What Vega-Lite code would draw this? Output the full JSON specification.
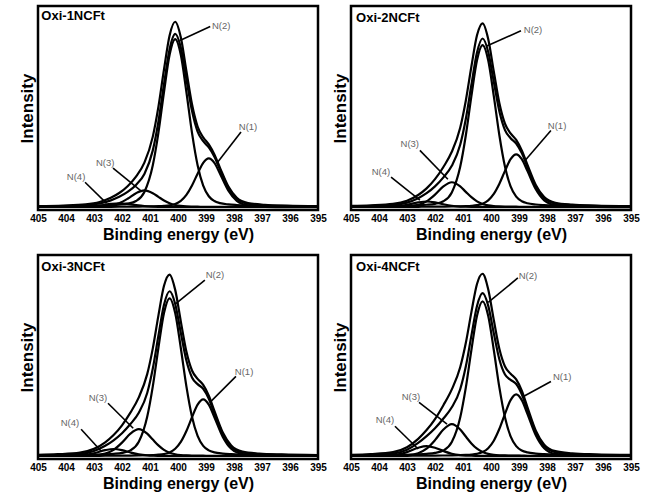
{
  "$schema": "https://vega.github.io/schema/vega-lite/v6.json",
  "background": "white",
  "padding": {"left": 16, "top": 4, "right": 5, "bottom": 2},
  "data": {"values": [
    {"s":"Oxi-1NCFt","x":395,"raw":0.0048,"env":0.0035,"n1":0.0011,"n2":0.0022,"n3":0.0002,"n4":0},
    {"s":"Oxi-1NCFt","x":396.1,"raw":0.0074,"env":0.0055,"n1":0.0019,"n2":0.0034,"n3":0.0002,"n4":0},
    {"s":"Oxi-1NCFt","x":396.9,"raw":0.012,"env":0.0093,"n1":0.0037,"n2":0.0052,"n3":0.0003,"n4":0.0001},
    {"s":"Oxi-1NCFt","x":397.5,"raw":0.0216,"env":0.0178,"n1":0.0094,"n2":0.0078,"n3":0.0005,"n4":0.0001},
    {"s":"Oxi-1NCFt","x":397.9,"raw":0.05,"env":0.0449,"n1":0.0335,"n2":0.0107,"n3":0.0006,"n4":0.0001},
    {"s":"Oxi-1NCFt","x":398.2,"raw":0.1102,"env":0.1035,"n1":0.0885,"n2":0.0142,"n3":0.0007,"n4":0.0001},
    {"s":"Oxi-1NCFt","x":398.5,"raw":0.2116,"env":0.2023,"n1":0.1802,"n2":0.0212,"n3":0.0008,"n4":0.0001},
    {"s":"Oxi-1NCFt","x":398.7,"raw":0.2839,"env":0.2719,"n1":0.2384,"n2":0.0324,"n3":0.001,"n4":0.0001},
    {"s":"Oxi-1NCFt","x":398.9,"raw":0.3381,"env":0.3224,"n1":0.263,"n2":0.0582,"n3":0.0011,"n4":0.0001},
    {"s":"Oxi-1NCFt","x":399.1,"raw":0.3762,"env":0.3555,"n1":0.2384,"n2":0.1155,"n3":0.0014,"n4":0.0002},
    {"s":"Oxi-1NCFt","x":399.3,"raw":0.4351,"env":0.4078,"n1":0.1802,"n2":0.2257,"n3":0.0017,"n4":0.0002},
    {"s":"Oxi-1NCFt","x":399.5,"raw":0.5549,"env":0.5195,"n1":0.1162,"n2":0.4008,"n3":0.0023,"n4":0.0002},
    {"s":"Oxi-1NCFt","x":399.7,"raw":0.7354,"env":0.6905,"n1":0.0654,"n2":0.6215,"n3":0.0034,"n4":0.0002},
    {"s":"Oxi-1NCFt","x":399.9,"raw":0.9173,"env":0.862,"n1":0.0335,"n2":0.8223,"n3":0.0059,"n4":0.0003},
    {"s":"Oxi-1NCFt","x":400.1,"raw":1.0009,"env":0.9353,"n1":0.0169,"n2":0.907,"n3":0.0111,"n4":0.0003},
    {"s":"Oxi-1NCFt","x":400.3,"raw":0.9271,"env":0.8528,"n1":0.0094,"n2":0.8223,"n3":0.0207,"n4":0.0004},
    {"s":"Oxi-1NCFt","x":400.5,"raw":0.7432,"env":0.6639,"n1":0.0062,"n2":0.6215,"n3":0.0356,"n4":0.0006},
    {"s":"Oxi-1NCFt","x":400.7,"raw":0.5408,"env":0.4615,"n1":0.0046,"n2":0.4008,"n3":0.0551,"n4":0.001},
    {"s":"Oxi-1NCFt","x":400.9,"raw":0.3804,"env":0.3061,"n1":0.0037,"n2":0.2257,"n3":0.0749,"n4":0.0018},
    {"s":"Oxi-1NCFt","x":401.2,"raw":0.2396,"env":0.179,"n1":0.0028,"n2":0.0816,"n3":0.09,"n4":0.0046},
    {"s":"Oxi-1NCFt","x":401.5,"raw":0.1645,"env":0.1196,"n1":0.0023,"n2":0.0324,"n3":0.0749,"n4":0.01},
    {"s":"Oxi-1NCFt","x":401.8,"raw":0.1127,"env":0.0816,"n1":0.0018,"n2":0.0181,"n3":0.045,"n4":0.0167},
    {"s":"Oxi-1NCFt","x":402.1,"raw":0.0757,"env":0.055,"n1":0.0015,"n2":0.0128,"n3":0.0207,"n4":0.02},
    {"s":"Oxi-1NCFt","x":402.4,"raw":0.0496,"env":0.0359,"n1":0.0013,"n2":0.0098,"n3":0.0081,"n4":0.0167},
    {"s":"Oxi-1NCFt","x":402.8,"raw":0.0271,"env":0.0189,"n1":0.001,"n2":0.0073,"n3":0.0027,"n4":0.0079},
    {"s":"Oxi-1NCFt","x":403.3,"raw":0.0143,"env":0.0092,"n1":0.0008,"n2":0.0052,"n3":0.0014,"n4":0.0018},
    {"s":"Oxi-1NCFt","x":404.1,"raw":0.008,"env":0.005,"n1":0.0006,"n2":0.0034,"n3":0.0007,"n4":0.0003},
    {"s":"Oxi-1NCFt","x":405,"raw":0.0051,"env":0.0032,"n1":0.0004,"n2":0.0022,"n3":0.0004,"n4":0.0002},

    {"s":"Oxi-2NCFt","x":395,"raw":0.0052,"env":0.0036,"n1":0.0012,"n2":0.0021,"n3":0.0003,"n4":0},
    {"s":"Oxi-2NCFt","x":396.3,"raw":0.0082,"env":0.0058,"n1":0.0021,"n2":0.0032,"n3":0.0004,"n4":0.0001},
    {"s":"Oxi-2NCFt","x":397.1,"raw":0.013,"env":0.0096,"n1":0.004,"n2":0.005,"n3":0.0005,"n4":0.0001},
    {"s":"Oxi-2NCFt","x":397.7,"raw":0.0233,"env":0.0185,"n1":0.0102,"n2":0.0075,"n3":0.0007,"n4":0.0001},
    {"s":"Oxi-2NCFt","x":398.1,"raw":0.054,"env":0.0476,"n1":0.0363,"n2":0.0103,"n3":0.0009,"n4":0.0001},
    {"s":"Oxi-2NCFt","x":398.4,"raw":0.119,"env":0.1107,"n1":0.0959,"n2":0.0137,"n3":0.001,"n4":0.0001},
    {"s":"Oxi-2NCFt","x":398.7,"raw":0.2289,"env":0.2173,"n1":0.1953,"n2":0.0205,"n3":0.0013,"n4":0.0002},
    {"s":"Oxi-2NCFt","x":398.9,"raw":0.3062,"env":0.2913,"n1":0.2584,"n2":0.0312,"n3":0.0015,"n4":0.0002},
    {"s":"Oxi-2NCFt","x":399.1,"raw":0.3627,"env":0.3431,"n1":0.285,"n2":0.0562,"n3":0.0017,"n4":0.0002},
    {"s":"Oxi-2NCFt","x":399.3,"raw":0.3979,"env":0.372,"n1":0.2584,"n2":0.1114,"n3":0.002,"n4":0.0002},
    {"s":"Oxi-2NCFt","x":399.5,"raw":0.4499,"env":0.4158,"n1":0.1953,"n2":0.2177,"n3":0.0025,"n4":0.0003},
    {"s":"Oxi-2NCFt","x":399.7,"raw":0.5605,"env":0.5163,"n1":0.1259,"n2":0.3867,"n3":0.0034,"n4":0.0003},
    {"s":"Oxi-2NCFt","x":399.9,"raw":0.7321,"env":0.676,"n1":0.0709,"n2":0.5996,"n3":0.0051,"n4":0.0004},
    {"s":"Oxi-2NCFt","x":400.1,"raw":0.908,"env":0.8388,"n1":0.0363,"n2":0.7933,"n3":0.0088,"n4":0.0004},
    {"s":"Oxi-2NCFt","x":400.3,"raw":0.9924,"env":0.9104,"n1":0.0183,"n2":0.875,"n3":0.0166,"n4":0.0005},
    {"s":"Oxi-2NCFt","x":400.5,"raw":0.9277,"env":0.8349,"n1":0.0102,"n2":0.7933,"n3":0.0308,"n4":0.0006},
    {"s":"Oxi-2NCFt","x":400.7,"raw":0.7595,"env":0.6603,"n1":0.0067,"n2":0.5996,"n3":0.0531,"n4":0.0009},
    {"s":"Oxi-2NCFt","x":400.9,"raw":0.5745,"env":0.4753,"n1":0.005,"n2":0.3867,"n3":0.0821,"n4":0.0015},
    {"s":"Oxi-2NCFt","x":401.1,"raw":0.4288,"env":0.336,"n1":0.004,"n2":0.2177,"n3":0.1116,"n4":0.0027},
    {"s":"Oxi-2NCFt","x":401.4,"raw":0.2985,"env":0.2228,"n1":0.0031,"n2":0.0788,"n3":0.134,"n4":0.0069},
    {"s":"Oxi-2NCFt","x":401.7,"raw":0.2164,"env":0.1603,"n1":0.0025,"n2":0.0312,"n3":0.1116,"n4":0.015},
    {"s":"Oxi-2NCFt","x":402.0,"raw":0.1504,"env":0.1115,"n1":0.002,"n2":0.0175,"n3":0.067,"n4":0.025},
    {"s":"Oxi-2NCFt","x":402.3,"raw":0.1006,"env":0.0747,"n1":0.0016,"n2":0.0123,"n3":0.0308,"n4":0.03},
    {"s":"Oxi-2NCFt","x":402.6,"raw":0.0651,"env":0.048,"n1":0.0014,"n2":0.0095,"n3":0.0121,"n4":0.025},
    {"s":"Oxi-2NCFt","x":403.0,"raw":0.0344,"env":0.0241,"n1":0.0011,"n2":0.007,"n3":0.0041,"n4":0.0119},
    {"s":"Oxi-2NCFt","x":403.5,"raw":0.017,"env":0.0106,"n1":0.0009,"n2":0.005,"n3":0.002,"n4":0.0027},
    {"s":"Oxi-2NCFt","x":404.3,"raw":0.0092,"env":0.0054,"n1":0.0006,"n2":0.0032,"n3":0.0011,"n4":0.0005},
    {"s":"Oxi-2NCFt","x":405,"raw":0.0058,"env":0.0034,"n1":0.0005,"n2":0.0021,"n3":0.0006,"n4":0.0002},

    {"s":"Oxi-3NCFt","x":395,"raw":0.0055,"env":0.0037,"n1":0.0013,"n2":0.002,"n3":0.0003,"n4":0.0001},
    {"s":"Oxi-3NCFt","x":396.3,"raw":0.0086,"env":0.006,"n1":0.0023,"n2":0.0032,"n3":0.0004,"n4":0.0001},
    {"s":"Oxi-3NCFt","x":397.1,"raw":0.0136,"env":0.0099,"n1":0.0043,"n2":0.0049,"n3":0.0006,"n4":0.0001},
    {"s":"Oxi-3NCFt","x":397.7,"raw":0.0242,"env":0.019,"n1":0.0109,"n2":0.0073,"n3":0.0007,"n4":0.0001},
    {"s":"Oxi-3NCFt","x":398.1,"raw":0.0572,"env":0.0502,"n1":0.039,"n2":0.0101,"n3":0.0009,"n4":0.0002},
    {"s":"Oxi-3NCFt","x":398.4,"raw":0.1269,"env":0.1177,"n1":0.103,"n2":0.0134,"n3":0.0011,"n4":0.0002},
    {"s":"Oxi-3NCFt","x":398.7,"raw":0.2439,"env":0.2312,"n1":0.2097,"n2":0.0199,"n3":0.0014,"n4":0.0002},
    {"s":"Oxi-3NCFt","x":398.9,"raw":0.326,"env":0.3096,"n1":0.2774,"n2":0.0304,"n3":0.0016,"n4":0.0002},
    {"s":"Oxi-3NCFt","x":399.1,"raw":0.3844,"env":0.3628,"n1":0.306,"n2":0.0547,"n3":0.0018,"n4":0.0003},
    {"s":"Oxi-3NCFt","x":399.3,"raw":0.4169,"env":0.3884,"n1":0.2774,"n2":0.1085,"n3":0.0022,"n4":0.0003},
    {"s":"Oxi-3NCFt","x":399.5,"raw":0.4622,"env":0.4247,"n1":0.2097,"n2":0.212,"n3":0.0027,"n4":0.0003},
    {"s":"Oxi-3NCFt","x":399.7,"raw":0.5644,"env":0.5157,"n1":0.1352,"n2":0.3765,"n3":0.0036,"n4":0.0004},
    {"s":"Oxi-3NCFt","x":399.9,"raw":0.7276,"env":0.6658,"n1":0.0761,"n2":0.5838,"n3":0.0055,"n4":0.0004},
    {"s":"Oxi-3NCFt","x":400.1,"raw":0.8976,"env":0.8215,"n1":0.039,"n2":0.7724,"n3":0.0096,"n4":0.0005},
    {"s":"Oxi-3NCFt","x":400.3,"raw":0.9803,"env":0.8901,"n1":0.0196,"n2":0.852,"n3":0.0179,"n4":0.0006},
    {"s":"Oxi-3NCFt","x":400.5,"raw":0.9195,"env":0.8174,"n1":0.0109,"n2":0.7724,"n3":0.0333,"n4":0.0008},
    {"s":"Oxi-3NCFt","x":400.7,"raw":0.7587,"env":0.6496,"n1":0.0072,"n2":0.5838,"n3":0.0574,"n4":0.0012},
    {"s":"Oxi-3NCFt","x":400.9,"raw":0.5817,"env":0.4726,"n1":0.0054,"n2":0.3765,"n3":0.0888,"n4":0.0019},
    {"s":"Oxi-3NCFt","x":401.1,"raw":0.4425,"env":0.3404,"n1":0.0043,"n2":0.212,"n3":0.1207,"n4":0.0034},
    {"s":"Oxi-3NCFt","x":401.4,"raw":0.317,"env":0.2337,"n1":0.0033,"n2":0.0767,"n3":0.145,"n4":0.0087},
    {"s":"Oxi-3NCFt","x":401.7,"raw":0.2345,"env":0.1727,"n1":0.0026,"n2":0.0304,"n3":0.1207,"n4":0.019},
    {"s":"Oxi-3NCFt","x":402.0,"raw":0.166,"env":0.1232,"n1":0.0021,"n2":0.017,"n3":0.0725,"n4":0.0316},
    {"s":"Oxi-3NCFt","x":402.3,"raw":0.1135,"env":0.085,"n1":0.0017,"n2":0.012,"n3":0.0333,"n4":0.038},
    {"s":"Oxi-3NCFt","x":402.6,"raw":0.0742,"env":0.0554,"n1":0.0015,"n2":0.0092,"n3":0.0131,"n4":0.0316},
    {"s":"Oxi-3NCFt","x":403.0,"raw":0.0387,"env":0.0274,"n1":0.0012,"n2":0.0068,"n3":0.0044,"n4":0.015},
    {"s":"Oxi-3NCFt","x":403.5,"raw":0.0184,"env":0.0114,"n1":0.0009,"n2":0.0049,"n3":0.0022,"n4":0.0034},
    {"s":"Oxi-3NCFt","x":404.3,"raw":0.0099,"env":0.0057,"n1":0.0007,"n2":0.0032,"n3":0.0012,"n4":0.0006},
    {"s":"Oxi-3NCFt","x":405,"raw":0.0061,"env":0.0035,"n1":0.0005,"n2":0.002,"n3":0.0007,"n4":0.0003},

    {"s":"Oxi-4NCFt","x":395,"raw":0.0058,"env":0.0038,"n1":0.0014,"n2":0.002,"n3":0.0003,"n4":0.0001},
    {"s":"Oxi-4NCFt","x":396.3,"raw":0.0092,"env":0.0062,"n1":0.0025,"n2":0.0031,"n3":0.0005,"n4":0.0001},
    {"s":"Oxi-4NCFt","x":397.1,"raw":0.0147,"env":0.0103,"n1":0.0047,"n2":0.0048,"n3":0.0007,"n4":0.0001},
    {"s":"Oxi-4NCFt","x":397.7,"raw":0.0263,"env":0.0202,"n1":0.0119,"n2":0.0072,"n3":0.0009,"n4":0.0002},
    {"s":"Oxi-4NCFt","x":398.1,"raw":0.0617,"env":0.0536,"n1":0.0424,"n2":0.0099,"n3":0.0011,"n4":0.0002},
    {"s":"Oxi-4NCFt","x":398.4,"raw":0.1373,"env":0.1267,"n1":0.1121,"n2":0.0131,"n3":0.0013,"n4":0.0002},
    {"s":"Oxi-4NCFt","x":398.7,"raw":0.2645,"env":0.2497,"n1":0.2282,"n2":0.0196,"n3":0.0016,"n4":0.0003},
    {"s":"Oxi-4NCFt","x":398.9,"raw":0.353,"env":0.3339,"n1":0.3019,"n2":0.0298,"n3":0.0019,"n4":0.0003},
    {"s":"Oxi-4NCFt","x":399.1,"raw":0.4144,"env":0.3893,"n1":0.333,"n2":0.0537,"n3":0.0022,"n4":0.0004},
    {"s":"Oxi-4NCFt","x":399.3,"raw":0.4445,"env":0.4113,"n1":0.3019,"n2":0.1064,"n3":0.0026,"n4":0.0004},
    {"s":"Oxi-4NCFt","x":399.5,"raw":0.4836,"env":0.44,"n1":0.2282,"n2":0.208,"n3":0.0033,"n4":0.0005},
    {"s":"Oxi-4NCFt","x":399.7,"raw":0.578,"env":0.5214,"n1":0.1472,"n2":0.3694,"n3":0.0043,"n4":0.0005},
    {"s":"Oxi-4NCFt","x":399.9,"raw":0.7348,"env":0.6629,"n1":0.0829,"n2":0.5728,"n3":0.0066,"n4":0.0006},
    {"s":"Oxi-4NCFt","x":400.1,"raw":0.9009,"env":0.8124,"n1":0.0424,"n2":0.7579,"n3":0.0114,"n4":0.0007},
    {"s":"Oxi-4NCFt","x":400.3,"raw":0.9846,"env":0.8796,"n1":0.0214,"n2":0.836,"n3":0.0213,"n4":0.0009},
    {"s":"Oxi-4NCFt","x":400.5,"raw":0.9293,"env":0.8105,"n1":0.0119,"n2":0.7579,"n3":0.0395,"n4":0.0012},
    {"s":"Oxi-4NCFt","x":400.7,"raw":0.7773,"env":0.6503,"n1":0.0078,"n2":0.5728,"n3":0.0681,"n4":0.0016},
    {"s":"Oxi-4NCFt","x":400.9,"raw":0.6103,"env":0.4833,"n1":0.0059,"n2":0.3694,"n3":0.1053,"n4":0.0027},
    {"s":"Oxi-4NCFt","x":401.1,"raw":0.4796,"env":0.3608,"n1":0.0047,"n2":0.208,"n3":0.1432,"n4":0.0049},
    {"s":"Oxi-4NCFt","x":401.4,"raw":0.3601,"env":0.2632,"n1":0.0036,"n2":0.0752,"n3":0.172,"n4":0.0124},
    {"s":"Oxi-4NCFt","x":401.7,"raw":0.2748,"env":0.2029,"n1":0.0029,"n2":0.0298,"n3":0.1432,"n4":0.027},
    {"s":"Oxi-4NCFt","x":402.0,"raw":0.1998,"env":0.15,"n1":0.0023,"n2":0.0167,"n3":0.086,"n4":0.045},
    {"s":"Oxi-4NCFt","x":402.3,"raw":0.1404,"env":0.1072,"n1":0.0019,"n2":0.0118,"n3":0.0395,"n4":0.054},
    {"s":"Oxi-4NCFt","x":402.6,"raw":0.093,"env":0.0711,"n1":0.0016,"n2":0.009,"n3":0.0155,"n4":0.045},
    {"s":"Oxi-4NCFt","x":403.0,"raw":0.0478,"env":0.0346,"n1":0.0013,"n2":0.0067,"n3":0.0052,"n4":0.0214},
    {"s":"Oxi-4NCFt","x":403.5,"raw":0.0214,"env":0.0133,"n1":0.001,"n2":0.0048,"n3":0.0026,"n4":0.0049},
    {"s":"Oxi-4NCFt","x":404.3,"raw":0.011,"env":0.0061,"n1":0.0007,"n2":0.0031,"n3":0.0014,"n4":0.0009},
    {"s":"Oxi-4NCFt","x":405,"raw":0.0067,"env":0.0037,"n1":0.0005,"n2":0.002,"n3":0.0008,"n4":0.0004},

    {"s":"Oxi-1NCFt","tx":404.88,"ty":1.03,"title":"Oxi-1NCFt"},
    {"s":"Oxi-2NCFt","tx":404.82,"ty":1.02,"title":"Oxi-2NCFt"},
    {"s":"Oxi-3NCFt","tx":404.88,"ty":1.02,"title":"Oxi-3NCFt"},
    {"s":"Oxi-4NCFt","tx":404.82,"ty":1.02,"title":"Oxi-4NCFt"},

    {"s":"Oxi-1NCFt","lx":398.46,"ly":0.98,"label":"N(2)"},
    {"s":"Oxi-1NCFt","lx":397.5,"ly":0.435,"label":"N(1)"},
    {"s":"Oxi-1NCFt","lx":402.6,"ly":0.237,"label":"N(3)"},
    {"s":"Oxi-1NCFt","lx":403.64,"ly":0.16,"label":"N(4)"},
    {"s":"Oxi-2NCFt","lx":398.5,"ly":0.957,"label":"N(2)"},
    {"s":"Oxi-2NCFt","lx":397.64,"ly":0.44,"label":"N(1)"},
    {"s":"Oxi-2NCFt","lx":402.9,"ly":0.339,"label":"N(3)"},
    {"s":"Oxi-2NCFt","lx":403.93,"ly":0.188,"label":"N(4)"},
    {"s":"Oxi-3NCFt","lx":398.68,"ly":0.978,"label":"N(2)"},
    {"s":"Oxi-3NCFt","lx":397.64,"ly":0.452,"label":"N(1)"},
    {"s":"Oxi-3NCFt","lx":402.86,"ly":0.312,"label":"N(3)"},
    {"s":"Oxi-3NCFt","lx":403.86,"ly":0.177,"label":"N(4)"},
    {"s":"Oxi-4NCFt","lx":398.68,"ly":0.973,"label":"N(2)"},
    {"s":"Oxi-4NCFt","lx":397.46,"ly":0.425,"label":"N(1)"},
    {"s":"Oxi-4NCFt","lx":402.86,"ly":0.317,"label":"N(3)"},
    {"s":"Oxi-4NCFt","lx":403.79,"ly":0.194,"label":"N(4)"},

    {"s":"Oxi-1NCFt","ax":398.85,"ay":0.975,"bx":399.93,"by":0.9},
    {"s":"Oxi-1NCFt","ax":397.75,"ay":0.405,"bx":398.62,"by":0.235},
    {"s":"Oxi-1NCFt","ax":402.32,"ay":0.21,"bx":401.3,"by":0.085},
    {"s":"Oxi-1NCFt","ax":403.32,"ay":0.134,"bx":402.55,"by":0.02},
    {"s":"Oxi-2NCFt","ax":398.93,"ay":0.952,"bx":400.15,"by":0.87},
    {"s":"Oxi-2NCFt","ax":397.86,"ay":0.414,"bx":398.79,"by":0.25},
    {"s":"Oxi-2NCFt","ax":402.54,"ay":0.306,"bx":401.54,"by":0.15},
    {"s":"Oxi-2NCFt","ax":403.57,"ay":0.161,"bx":402.54,"by":0.038},
    {"s":"Oxi-3NCFt","ax":399.04,"ay":0.95,"bx":400.1,"by":0.82},
    {"s":"Oxi-3NCFt","ax":397.93,"ay":0.43,"bx":398.86,"by":0.29},
    {"s":"Oxi-3NCFt","ax":402.5,"ay":0.285,"bx":401.6,"by":0.15},
    {"s":"Oxi-3NCFt","ax":403.46,"ay":0.145,"bx":402.75,"by":0.027},
    {"s":"Oxi-4NCFt","ax":399.04,"ay":0.962,"bx":400.1,"by":0.83},
    {"s":"Oxi-4NCFt","ax":397.86,"ay":0.403,"bx":398.86,"by":0.32},
    {"s":"Oxi-4NCFt","ax":402.57,"ay":0.29,"bx":401.57,"by":0.172},
    {"s":"Oxi-4NCFt","ax":403.43,"ay":0.161,"bx":402.6,"by":0.038}
  ]},
  "columns": 2,
  "spacing": {"row": 45, "column": 33},
  "bounds": "flush",
  "concat": [
    {"width": 280, "height": 204, "transform": [{"filter": "datum.s == 'Oxi-1NCFt'"}],
     "layer": [
      {"transform": [{"filter": "isValid(datum.raw)"}, {"fold": ["raw", "env", "n1", "n2", "n3", "n4"], "as": ["curve", "v"]}],
       "mark": {"type": "line", "interpolate": "monotone", "color": "black", "strokeWidth": 2.2, "clip": true},
       "encoding": {"x": {"field": "x", "type": "quantitative", "title": "Binding energy (eV)", "scale": {"domain": [395, 405], "reverse": true, "nice": false, "zero": false}, "axis": {"values": [395,396,397,398,399,400,401,402,403,404,405], "format": "d", "labelOverlap": false, "labelFlush": false}},
                    "y": {"field": "v", "type": "quantitative", "title": "Intensity", "scale": {"domain": [-0.016, 1.086], "nice": false, "zero": false}, "axis": {"labels": false, "ticks": false, "grid": false, "domain": false}},
                    "detail": {"field": "curve"}}},
      {"transform": [{"filter": "isValid(datum.ax)"}],
       "mark": {"type": "rule", "color": "black", "strokeWidth": 1.6},
       "encoding": {"x": {"field": "ax", "type": "quantitative", "title": "Binding energy (eV)", "axis": {"values": [395,396,397,398,399,400,401,402,403,404,405], "format": "d", "labelOverlap": false, "labelFlush": false}}, "y": {"field": "ay", "type": "quantitative", "title": "Intensity"}, "x2": {"field": "bx"}, "y2": {"field": "by"}}},
      {"transform": [{"filter": "isValid(datum.label)"}],
       "mark": {"type": "text", "fontSize": 9.5, "color": "#666666", "align": "center", "baseline": "middle"},
       "encoding": {"x": {"field": "lx", "type": "quantitative", "title": "Binding energy (eV)", "axis": {"values": [395,396,397,398,399,400,401,402,403,404,405], "format": "d", "labelOverlap": false, "labelFlush": false}}, "y": {"field": "ly", "type": "quantitative", "title": "Intensity"}, "text": {"field": "label"}}},
      {"transform": [{"filter": "isValid(datum.title)"}],
       "mark": {"type": "text", "fontSize": 13, "fontWeight": "bold", "color": "black", "align": "left", "baseline": "middle"},
       "encoding": {"x": {"field": "tx", "type": "quantitative", "title": "Binding energy (eV)", "axis": {"values": [395,396,397,398,399,400,401,402,403,404,405], "format": "d", "labelOverlap": false, "labelFlush": false}}, "y": {"field": "ty", "type": "quantitative", "title": "Intensity"}, "text": {"field": "title"}}}
     ]},
    {"width": 280, "height": 204, "transform": [{"filter": "datum.s == 'Oxi-2NCFt'"}],
     "layer": [
      {"transform": [{"filter": "isValid(datum.raw)"}, {"fold": ["raw", "env", "n1", "n2", "n3", "n4"], "as": ["curve", "v"]}],
       "mark": {"type": "line", "interpolate": "monotone", "color": "black", "strokeWidth": 2.2, "clip": true},
       "encoding": {"x": {"field": "x", "type": "quantitative", "title": "Binding energy (eV)", "scale": {"domain": [395, 405], "reverse": true, "nice": false, "zero": false}, "axis": {"values": [395,396,397,398,399,400,401,402,403,404,405], "format": "d", "labelOverlap": false, "labelFlush": false}},
                    "y": {"field": "v", "type": "quantitative", "title": "Intensity", "scale": {"domain": [-0.016, 1.086], "nice": false, "zero": false}, "axis": {"labels": false, "ticks": false, "grid": false, "domain": false}},
                    "detail": {"field": "curve"}}},
      {"transform": [{"filter": "isValid(datum.ax)"}],
       "mark": {"type": "rule", "color": "black", "strokeWidth": 1.6},
       "encoding": {"x": {"field": "ax", "type": "quantitative", "title": "Binding energy (eV)", "axis": {"values": [395,396,397,398,399,400,401,402,403,404,405], "format": "d", "labelOverlap": false, "labelFlush": false}}, "y": {"field": "ay", "type": "quantitative", "title": "Intensity"}, "x2": {"field": "bx"}, "y2": {"field": "by"}}},
      {"transform": [{"filter": "isValid(datum.label)"}],
       "mark": {"type": "text", "fontSize": 9.5, "color": "#666666", "align": "center", "baseline": "middle"},
       "encoding": {"x": {"field": "lx", "type": "quantitative", "title": "Binding energy (eV)", "axis": {"values": [395,396,397,398,399,400,401,402,403,404,405], "format": "d", "labelOverlap": false, "labelFlush": false}}, "y": {"field": "ly", "type": "quantitative", "title": "Intensity"}, "text": {"field": "label"}}},
      {"transform": [{"filter": "isValid(datum.title)"}],
       "mark": {"type": "text", "fontSize": 13, "fontWeight": "bold", "color": "black", "align": "left", "baseline": "middle"},
       "encoding": {"x": {"field": "tx", "type": "quantitative", "title": "Binding energy (eV)", "axis": {"values": [395,396,397,398,399,400,401,402,403,404,405], "format": "d", "labelOverlap": false, "labelFlush": false}}, "y": {"field": "ty", "type": "quantitative", "title": "Intensity"}, "text": {"field": "title"}}}
     ]},
    {"width": 280, "height": 204, "transform": [{"filter": "datum.s == 'Oxi-3NCFt'"}],
     "layer": [
      {"transform": [{"filter": "isValid(datum.raw)"}, {"fold": ["raw", "env", "n1", "n2", "n3", "n4"], "as": ["curve", "v"]}],
       "mark": {"type": "line", "interpolate": "monotone", "color": "black", "strokeWidth": 2.2, "clip": true},
       "encoding": {"x": {"field": "x", "type": "quantitative", "title": "Binding energy (eV)", "scale": {"domain": [395, 405], "reverse": true, "nice": false, "zero": false}, "axis": {"values": [395,396,397,398,399,400,401,402,403,404,405], "format": "d", "labelOverlap": false, "labelFlush": false}},
                    "y": {"field": "v", "type": "quantitative", "title": "Intensity", "scale": {"domain": [-0.016, 1.086], "nice": false, "zero": false}, "axis": {"labels": false, "ticks": false, "grid": false, "domain": false}},
                    "detail": {"field": "curve"}}},
      {"transform": [{"filter": "isValid(datum.ax)"}],
       "mark": {"type": "rule", "color": "black", "strokeWidth": 1.6},
       "encoding": {"x": {"field": "ax", "type": "quantitative", "title": "Binding energy (eV)", "axis": {"values": [395,396,397,398,399,400,401,402,403,404,405], "format": "d", "labelOverlap": false, "labelFlush": false}}, "y": {"field": "ay", "type": "quantitative", "title": "Intensity"}, "x2": {"field": "bx"}, "y2": {"field": "by"}}},
      {"transform": [{"filter": "isValid(datum.label)"}],
       "mark": {"type": "text", "fontSize": 9.5, "color": "#666666", "align": "center", "baseline": "middle"},
       "encoding": {"x": {"field": "lx", "type": "quantitative", "title": "Binding energy (eV)", "axis": {"values": [395,396,397,398,399,400,401,402,403,404,405], "format": "d", "labelOverlap": false, "labelFlush": false}}, "y": {"field": "ly", "type": "quantitative", "title": "Intensity"}, "text": {"field": "label"}}},
      {"transform": [{"filter": "isValid(datum.title)"}],
       "mark": {"type": "text", "fontSize": 13, "fontWeight": "bold", "color": "black", "align": "left", "baseline": "middle"},
       "encoding": {"x": {"field": "tx", "type": "quantitative", "title": "Binding energy (eV)", "axis": {"values": [395,396,397,398,399,400,401,402,403,404,405], "format": "d", "labelOverlap": false, "labelFlush": false}}, "y": {"field": "ty", "type": "quantitative", "title": "Intensity"}, "text": {"field": "title"}}}
     ]},
    {"width": 280, "height": 204, "transform": [{"filter": "datum.s == 'Oxi-4NCFt'"}],
     "layer": [
      {"transform": [{"filter": "isValid(datum.raw)"}, {"fold": ["raw", "env", "n1", "n2", "n3", "n4"], "as": ["curve", "v"]}],
       "mark": {"type": "line", "interpolate": "monotone", "color": "black", "strokeWidth": 2.2, "clip": true},
       "encoding": {"x": {"field": "x", "type": "quantitative", "title": "Binding energy (eV)", "scale": {"domain": [395, 405], "reverse": true, "nice": false, "zero": false}, "axis": {"values": [395,396,397,398,399,400,401,402,403,404,405], "format": "d", "labelOverlap": false, "labelFlush": false}},
                    "y": {"field": "v", "type": "quantitative", "title": "Intensity", "scale": {"domain": [-0.016, 1.086], "nice": false, "zero": false}, "axis": {"labels": false, "ticks": false, "grid": false, "domain": false}},
                    "detail": {"field": "curve"}}},
      {"transform": [{"filter": "isValid(datum.ax)"}],
       "mark": {"type": "rule", "color": "black", "strokeWidth": 1.6},
       "encoding": {"x": {"field": "ax", "type": "quantitative", "title": "Binding energy (eV)", "axis": {"values": [395,396,397,398,399,400,401,402,403,404,405], "format": "d", "labelOverlap": false, "labelFlush": false}}, "y": {"field": "ay", "type": "quantitative", "title": "Intensity"}, "x2": {"field": "bx"}, "y2": {"field": "by"}}},
      {"transform": [{"filter": "isValid(datum.label)"}],
       "mark": {"type": "text", "fontSize": 9.5, "color": "#666666", "align": "center", "baseline": "middle"},
       "encoding": {"x": {"field": "lx", "type": "quantitative", "title": "Binding energy (eV)", "axis": {"values": [395,396,397,398,399,400,401,402,403,404,405], "format": "d", "labelOverlap": false, "labelFlush": false}}, "y": {"field": "ly", "type": "quantitative", "title": "Intensity"}, "text": {"field": "label"}}},
      {"transform": [{"filter": "isValid(datum.title)"}],
       "mark": {"type": "text", "fontSize": 13, "fontWeight": "bold", "color": "black", "align": "left", "baseline": "middle"},
       "encoding": {"x": {"field": "tx", "type": "quantitative", "title": "Binding energy (eV)", "axis": {"values": [395,396,397,398,399,400,401,402,403,404,405], "format": "d", "labelOverlap": false, "labelFlush": false}}, "y": {"field": "ty", "type": "quantitative", "title": "Intensity"}, "text": {"field": "title"}}}
     ]}
  ],
  "config": {
    "font": "Liberation Sans",
    "view": {"stroke": "black", "strokeWidth": 2.5},
    "axisX": {"ticks": false, "domain": false, "grid": false, "labelOverlap": false, "labelFlush": false, "labelFontSize": 10, "labelFontWeight": "bold", "labelColor": "black", "labelPadding": 3, "titleFontSize": 16, "titleFontWeight": "bold", "titleColor": "black", "titlePadding": 3, "labelFont": "Liberation Sans", "titleFont": "Liberation Sans"},
    "axisY": {"labels": false, "ticks": false, "grid": false, "domain": false, "titleFontSize": 17, "titleFontWeight": "bold", "titleColor": "black", "titlePadding": 2, "titleFont": "Liberation Sans"}
  }
}
